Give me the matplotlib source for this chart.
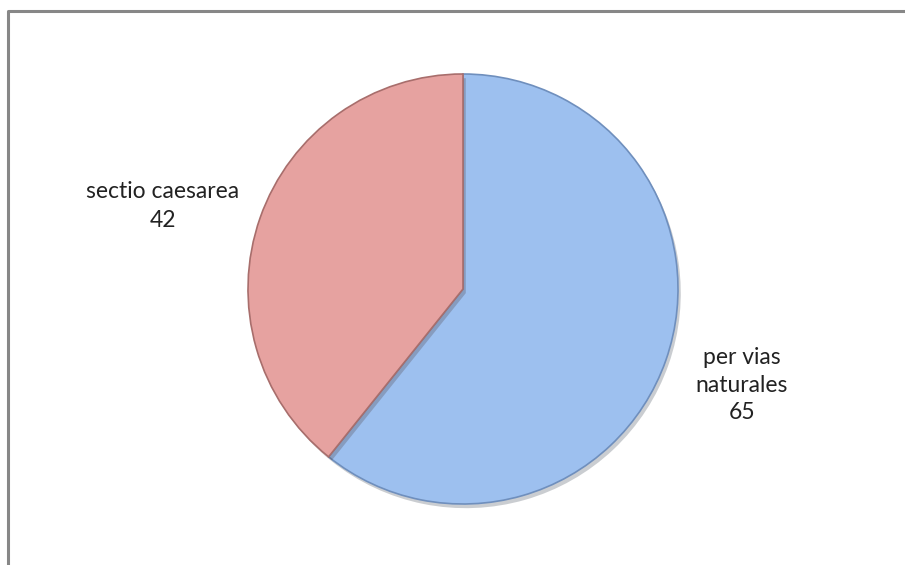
import matplotlib.pyplot as plt
import matplotlib.patheffects as pe

# Data
labels = ['per vias\nnaturales', 'sectio caesarea']
values = [65, 42]
colors = ['#9dc0ef', '#e6a2a0']
edges = ['#6f8fbd', '#a86e6c']

plt.rcParams['font.family'] = ['Lato', 'DejaVu Sans']

fig = plt.figure(figsize=(9.05, 5.65), dpi=100)
ax = fig.add_axes([0, 0, 1, 1])

# chart frame (only left and top edge visible)
ax.plot([8, 8, 1000], [-5, 554, 554], color='#878787', lw=2.2, solid_capstyle='butt')

wedges, _ = ax.pie(values, colors=colors, startangle=90, counterclock=False,
                   center=(463, 276), radius=215, frame=True,
                   wedgeprops=dict(linewidth=1.2))
for w, ec in zip(wedges, edges):
    w.set_edgecolor(ec)
    w.set_path_effects([pe.SimplePatchShadow(offset=(2, -3), alpha=0.25), pe.Normal()])
ax.set_xlim(0, 905)
ax.set_ylim(0, 565)
ax.set_aspect('equal')
ax.axis('off')

# data labels
ax.text(163, 359, 'sectio caesarea\n%d' % values[1], ha='center', va='center',
        fontsize=16.5, color='#222222', linespacing=1.5)
ax.text(742, 180, 'per vias\nnaturales\n%d' % values[0], ha='center', va='center',
        fontsize=16.5, color='#222222', linespacing=1.38)

fig.savefig('out.png', dpi=100)
